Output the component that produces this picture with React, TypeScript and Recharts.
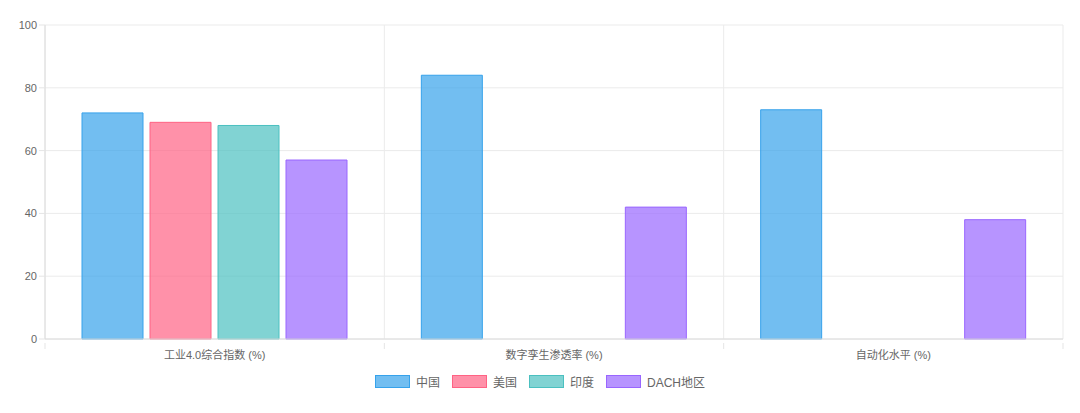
import { BarChart, Bar, XAxis, YAxis, CartesianGrid, Legend } from 'recharts';

const categories = ['工业4.0综合指数 (%)', '数字孪生渗透率 (%)', '自动化水平 (%)'];
const chinaValues = [72, 84, 73];
const usValues = [69, null, null];
const indiaValues = [68, null, null];
const dachValues = [57, 42, 38];
const yTicks = [0, 20, 40, 60, 80, 100];

const series = [
  { key: 'china', name: '中国', fill: 'rgba(54,162,235,0.7)', stroke: 'rgb(54,162,235)' },
  { key: 'us', name: '美国', fill: 'rgba(255,99,132,0.7)', stroke: 'rgb(255,99,132)' },
  { key: 'india', name: '印度', fill: 'rgba(75,192,192,0.7)', stroke: 'rgb(75,192,192)' },
  { key: 'dach', name: 'DACH地区', fill: 'rgba(153,102,255,0.7)', stroke: 'rgb(153,102,255)' },
];

const data = categories.map((name, i) => ({
  name,
  china: chinaValues[i],
  us: usValues[i],
  india: indiaValues[i],
  dach: dachValues[i],
}));

const FONT = "'Liberation Sans', Arial, 'Noto Sans CJK SC', sans-serif";
const WIDTH = 1080;
const HEIGHT = 413;
const MARGIN = { top: 25, right: 17, left: 0, bottom: 19 };
const Y_WIDTH = 45;
// half of one category band, used for the small boundary tick marks
const HALF_BAND = (WIDTH - MARGIN.left - MARGIN.right - Y_WIDTH) / categories.length / 2;

function CategoryTick(props: any) {
  const { x, y, payload, index } = props;
  const last = index === categories.length - 1;
  return (
    <g>
      <line x1={x - HALF_BAND} x2={x - HALF_BAND} y1={y - 8} y2={y - 2} stroke="#e5e5e5" />
      {last && <line x1={x + HALF_BAND} x2={x + HALF_BAND} y1={y - 8} y2={y - 2} stroke="#e5e5e5" />}
      <text x={x} y={y + 8} textAnchor="middle" fontSize={11} fill="#666" fontFamily={FONT}>
        {payload.value}
      </text>
    </g>
  );
}

// grid lines sit on the category boundaries, like Chart.js does with offset bars
const boundaryLines = ({ offset }: any) =>
  categories.map((_, i) => offset.left + (i * offset.width) / categories.length).concat(offset.left + offset.width);

function renderLegend() {
  return (
    <div style={{ display: 'flex', justifyContent: 'center', alignItems: 'center', gap: 12, height: 26, fontFamily: FONT, fontSize: 12, color: '#666' }}>
      {series.map((s) => (
        <div key={s.key} style={{ display: 'flex', alignItems: 'center' }}>
          <span style={{ display: 'inline-block', width: 33, height: 11, background: s.fill, border: `1px solid ${s.stroke}`, marginRight: 6 }} />
          <span>{s.name}</span>
        </div>
      ))}
    </div>
  );
}

export default function App() {
  return (
    <div style={{ position: 'absolute', left: 0, top: 0, background: '#fff' }}>
      <BarChart
        width={WIDTH}
        height={HEIGHT}
        data={data}
        margin={MARGIN}
        barSize={61}
        barGap={7}
      >
        <CartesianGrid stroke="#ebebeb" verticalCoordinatesGenerator={boundaryLines} />
        <XAxis
          dataKey="name"
          tickLine={false}
          axisLine={{ stroke: '#dcdcdc' }}
          height={29}
          tickMargin={6}
          tick={<CategoryTick />}
        />
        <YAxis
          width={Y_WIDTH}
          domain={[0, 100]}
          ticks={yTicks}
          tickSize={6}
          tickLine={{ stroke: '#e5e5e5' }}
          axisLine={{ stroke: '#dcdcdc' }}
          tick={{ fontSize: 11, fill: '#666', fontFamily: FONT }}
        />
        <Legend
          verticalAlign="bottom"
          height={26}
          content={renderLegend}
          wrapperStyle={{ left: 0, width: WIDTH }}
        />
        {series.map((s) => (
          <Bar
            key={s.key}
            dataKey={s.key}
            name={s.name}
            fill={s.fill}
            stroke={s.stroke}
            strokeWidth={1}
            isAnimationActive={false}
          />
        ))}
      </BarChart>
    </div>
  );
}
